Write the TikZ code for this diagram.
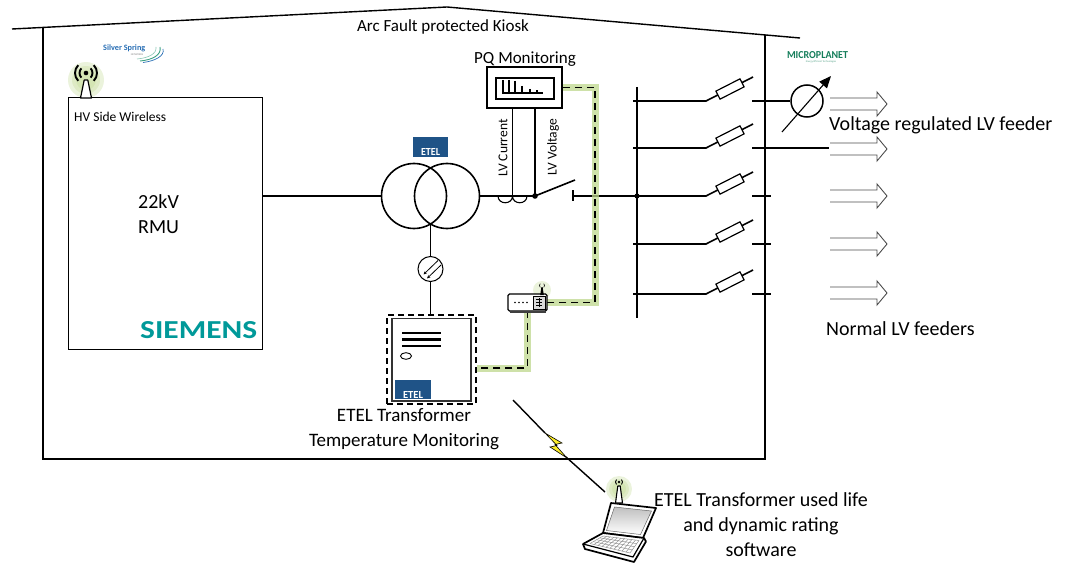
\documentclass[tikz,border=0pt]{standalone}
\usepackage{fontspec}
\setmainfont{Carlito}
\usepackage{graphicx}
\usetikzlibrary{arrows.meta,calc}
\definecolor{etelblue}{RGB}{31,83,135}
\definecolor{siemensteal}{RGB}{0,153,153}
\definecolor{glowgreen}{RGB}{190,215,140}
\definecolor{ssblue}{RGB}{40,110,180}
\definecolor{ssgreen}{RGB}{60,160,130}
\definecolor{mpgreen}{RGB}{20,125,90}
\definecolor{boltyellow}{RGB}{250,235,40}

\begin{document}
\begin{tikzpicture}[x=1pt,y=-1pt,
  wire/.style={line width=1.6pt},
  thinwire/.style={line width=1.1pt},
  glowline/.style={glowgreen, line width=7pt, opacity=0.75},
  datalink/.style={line width=1.6pt, dash pattern=on 7pt off 5pt},
  feedarrow/.style={black!70, line width=0.9pt, line join=miter},
  fusebox/.style={draw, line width=1.2pt, fill=white, minimum width=27pt, minimum height=9pt, inner sep=0pt, rotate=27},
  lblA/.style={font=\fontsize{20}{25}\selectfont, inner sep=0pt},
  lblB/.style={font=\fontsize{19}{25}\selectfont, inner sep=0pt},
  lblC/.style={font=\fontsize{17}{20}\selectfont, inner sep=0pt},
  lblS/.style={font=\fontsize{13.5}{16}\selectfont, inner sep=0pt},
  etellogo/.style={fill=etelblue, inner sep=0pt},
  eteltext/.style={text=white, inner sep=0pt},
  softglow/.style={fill=glowgreen, opacity=0.3},
]
\useasboundingbox (0,0) rectangle (1072,567);

% ---------- kiosk outline ----------
\coordinate (roofL) at (12,29);
\coordinate (roofT) at (447,7);
\coordinate (roofR) at (800,38);
\draw[line width=1.4pt] (roofL) -- (roofT) -- (roofR);
\draw[line width=1.4pt] (43,27.6) -- (43,459) -- (765,459) -- (765,34.9);
\node[lblC] (kiosk) at (443,27) {Arc Fault protected Kiosk};

% ---------- HV side: RMU ----------
\foreach \r in {18,14,10} \fill[softglow] (86,80) circle (\r);
\node[draw, line width=1.3pt, minimum width=194pt, minimum height=252pt, inner sep=0pt, anchor=north west] (rmu) at (68,97) {};
\draw[line width=1.2pt, fill=white, line join=round] (80.5,98) -- (91.5,98) -- (87.8,80) -- (84.2,80) -- cycle;
\fill (86,73) circle (2.3);
\foreach \r in {6.5,11} {
  \draw[line width=1.9pt] ([shift={(-45:\r)}]86,73) arc (-45:45:\r);
  \draw[line width=1.9pt] ([shift={(135:\r)}]86,73) arc (135:225:\r);
}
\node[lblS, anchor=west] (hvw) at (74,117) {HV Side Wireless};
\node[lblA, anchor=west, align=left] (rmutext) at (138,214.5) {22kV\\RMU};
\node[anchor=south west, inner sep=0pt, text=siemensteal] (siemens) at (140,338.5) {\resizebox{117pt}{17pt}{\bfseries SIEMENS}};

% Silver Spring logo
\node[text=ssblue, font=\fontsize{8.2}{9}\selectfont\bfseries, inner sep=0pt, anchor=west] (sslogo) at (103,48.5) {Silver Spring};
\node[text=black!50, font=\fontsize{2.6}{3}\selectfont, inner sep=0pt] (ssnet) at (137,54.5) {NETWORKS};
\draw[ssgreen, line width=0.9pt] (140,61) .. controls (152,60) and (162,55) .. (160,47);
\draw[ssblue, line width=0.7pt] (143,62.5) .. controls (155,61) and (165,56) .. (163,49);
\draw[ssgreen!60, line width=0.6pt] (137,59) .. controls (148,58) and (157,54) .. (156,47);

% ---------- transformer ----------
\node[circle, draw, line width=1.6pt, minimum size=65pt, inner sep=0pt] (tl) at (414,196) {};
\node[circle, draw, line width=1.6pt, minimum size=65pt, inner sep=0pt] (tr) at (447,196) {};
\draw[wire] (rmu.north east |- tl.west) -- (tl.west);
\node[etellogo, minimum width=35pt, minimum height=20pt] (etelA) at (430.5,147) {};
\node[eteltext] (etelAtxt) at (430.5,152.5) {\resizebox{19pt}{7pt}{\bfseries ETEL}};

% ---------- LV side: CT, VT tap, switch ----------
\coordinate (ctA) at (498,196);
\coordinate (ctB) at (512.5,196);
\coordinate (ctC) at (527,196);
\coordinate (vdot) at (535,196);
\coordinate (busmid) at (637,196);
\draw[wire] (tr.east) -- (vdot);
\draw[thinwire] (ctA) .. controls (498,205) and (512.5,205) .. (ctB) .. controls (512.5,205) and (527,205) .. (ctC);
\fill (vdot) circle (2.8);
\draw[wire] (vdot) -- (575,180);
\draw[wire] (573,190.5) -- (573,201.5);
\draw[wire] (573,196) -- (busmid);
\fill (busmid) circle (2.6);

% PQ monitoring
\node[draw, line width=1.5pt, minimum width=75pt, minimum height=41pt, inner sep=0pt] (pq) at (524.5,87.5) {};
\node[draw, line width=1.5pt, minimum width=58pt, minimum height=21pt, inner sep=0pt] (pqscreen) at (525,88.5) {};
\draw[line width=1.7pt] (503,80) -- (503,93) -- (543,93);
\draw[line width=1.5pt] (509,80) -- (509,93) (515,81) -- (515,93) (522,86) -- (522,93) (530,89) -- (530,93) (537,90.5) -- (537,93);
\node[lblC] (pqlabel) at (525,59) {PQ Monitoring};
\draw[thinwire] (ctB |- pq.south) -- (ctB);
\draw[thinwire] (vdot |- pq.south) -- (vdot);
\node[lblS, rotate=90] (lvc) at (503,148) {LV Current};
\node[lblS, rotate=90] (lvv) at (553,147) {LV Voltage};

% ---------- temperature sensor and monitor ----------
\coordinate (tbot) at (430.5,224);
\node[circle, draw, line width=1pt, minimum size=25pt, inner sep=0pt, fill=white] (gauge) at (430.5,269) {};
\draw[line width=0.8pt, -{Stealth[length=3.5pt,width=3pt]}] (438,260.5) -- (423.5,274.5);
\draw[line width=0.8pt, -{Stealth[length=3.5pt,width=3pt]}] (441,265) -- (427,278.5);
\node[draw, line width=1.5pt, dash pattern=on 6pt off 4pt, minimum width=89pt, minimum height=89pt, inner sep=0pt] (tm) at (431.5,359.5) {};
\draw[thinwire] (tbot) -- (gauge.north);
\draw[thinwire] (gauge.south) -- (gauge.south |- tm.north);
\draw[line width=1.6pt, black!80] (392,318.5) rectangle (471,401);
\draw[line width=2.3pt] (402,333) -- (441,333) (402,339.5) -- (441,339.5) (402,346) -- (441,346);
\draw[line width=0.9pt] (406,356) ellipse (5.5 and 3.3);
\node[etellogo, minimum width=36pt, minimum height=19pt] (etelB) at (413,389.5) {};
\node[eteltext] (etelBtxt) at (413,394.5) {\resizebox{20pt}{7pt}{\bfseries ETEL}};
\node[lblB, align=center] (tmlabel) at (404,429.5) {ETEL Transformer\\Temperature Monitoring};

% ---------- communication links ----------
\coordinate (linkX) at (595,0);
\coordinate (linkY) at (0,368);
\node[minimum width=39pt, minimum height=17pt, inner sep=0pt] (modem) at (527.5,302.5) {};
\draw[glowline] (pq.east) -- (pq.east -| linkX) |- (modem.east);
\draw[glowline] (modem.south) |- (tm.east |- linkY);
\fill[softglow] (542,290) circle (9);
\draw[datalink] (pq.east) -- (pq.east -| linkX) |- (modem.east);
\draw[datalink] (modem.south) |- (tm.east |- linkY);

% router box
\draw[line width=1.2pt, fill=white, rounded corners=1.5pt] (508,294) rectangle (547,311);
\draw[line width=2pt, black!75] (509.5,311.5) -- (546,311.5);
\foreach \x in {515,519,523,527} \fill (\x,302.5) circle (0.9);
\draw[line width=0.8pt, fill=black!15] (533,296.5) rectangle (545,309);
\draw[line width=0.4pt] (536,299) -- (542,299) (536,302) -- (542,302) (536,305) -- (542,305) (539,298) -- (539,307);
\fill (540.2,295) -- (543.8,295) -- (542.6,287) -- (541.4,287) -- cycle;
\draw[line width=0.6pt] ([shift={(-45:2.5)}]542,285.5) arc (-45:45:2.5) ([shift={(135:2.5)}]542,285.5) arc (135:225:2.5);

% ---------- LV board ----------
\coordinate (busT) at (637,87);
\coordinate (busB) at (637,318);
\draw[wire] (busT) -- (busB);
\foreach \y/\ay in {101/104,148/149,196/196,244/244,294/293} {
  \draw[wire] (633,\y) -- (706,\y) -- (753,\y-24);
  \node[fusebox] at (730,\y-12) {};
  \draw[feedarrow] (830,\ay-6) -- (877,\ay-6) -- (877,\ay-12) -- (887,\ay) -- (877,\ay+12) -- (877,\ay+6) -- (830,\ay+6);
}
\node[circle, draw, line width=1.5pt, minimum size=32pt, inner sep=0pt] (reg) at (807,101) {};
\draw[wire] (752,101) -- (reg.west);
\draw[line width=1.1pt, -{Triangle[length=12pt,width=10pt]}] (782,132) -- (831,76);
\draw[wire] (752,148) -- (829,148);
\foreach \y in {196,244,294} \draw[wire] (752,\y) -- (771,\y);
\node[lblA, anchor=west] (vreg) at (829,125) {Voltage regulated LV feeder};
\node[lblA, anchor=west] (normal) at (826,329) {Normal LV feeders};

% MicroPlanet logo
\node[inner sep=0pt, text=mpgreen] (mplogo) at (817.5,55.5) {\resizebox{61pt}{7pt}{\bfseries MICROPLANET}};
\node[inner sep=0pt, text=mpgreen!70, font=\fontsize{2.6}{3}\selectfont] (mptag) at (821,61.5) {Energy Efficient Technologies};

% ---------- wireless link to laptop ----------
\coordinate (zapA) at (513,400);
\coordinate (boltTop) at (545,433);
\coordinate (boltBot) at (566,457);
\coordinate (zapB) at (605,492);
\draw[line width=1.4pt] (zapA) -- (boltTop);
\draw[line width=1.4pt] (boltBot) -- (zapB);
\draw[fill=boltyellow, line width=0.6pt, line join=miter] (545,433) -- (562,443) -- (555,444.5) -- (567,458) -- (550,447) -- (557,445.5) -- cycle;

% laptop
\foreach \r in {13,10,7} \fill[softglow] (619,489) circle (\r);
\draw[line width=1.7pt, fill=white, line join=round] (611,503) -- (656,508) -- (643,538) -- (603,533) -- cycle;
\shade[top color=black!25, bottom color=white, draw=black!60, line width=0.5pt] (614.5,507) -- (651.5,511) -- (640.5,534.5) -- (606.5,530.5) -- cycle;
\draw[line width=1.7pt, fill=white, line join=round] (603,533) -- (644,538) -- (646,541.5) -- (634,562) -- (585,549) -- (583,544) -- cycle;
\draw[line width=1.2pt] (583,544) -- (633,557) -- (644,538);
\coordinate (k1) at (603,536);
\coordinate (k2) at (639,540.5);
\coordinate (k3) at (630,553);
\coordinate (k4) at (590,543.5);
\foreach \t in {0,0.25,0.5,0.75,1}
  \draw[black!45, line width=0.45pt] ($(k1)!\t!(k4)$) -- ($(k2)!\t!(k3)$);
\foreach \t in {0,0.1,0.2,0.3,0.4,0.5,0.6,0.7,0.8,0.9,1}
  \draw[black!45, line width=0.45pt] ($(k1)!\t!(k2)$) -- ($(k4)!\t!(k3)$);
\draw[line width=1.1pt, fill=white, line join=round] (615.5,503) -- (622.5,503) -- (620.2,486) -- (617.8,486) -- cycle;
\fill (619,482) circle (1.3);
\draw[line width=0.9pt] ([shift={(-45:3.5)}]619,482) arc (-45:45:3.5) ([shift={(135:3.5)}]619,482) arc (135:225:3.5);
\node[lblA, align=center] (swlabel) at (761,525) {ETEL Transformer used life\\and dynamic rating\\software};

\end{tikzpicture}
\end{document}
